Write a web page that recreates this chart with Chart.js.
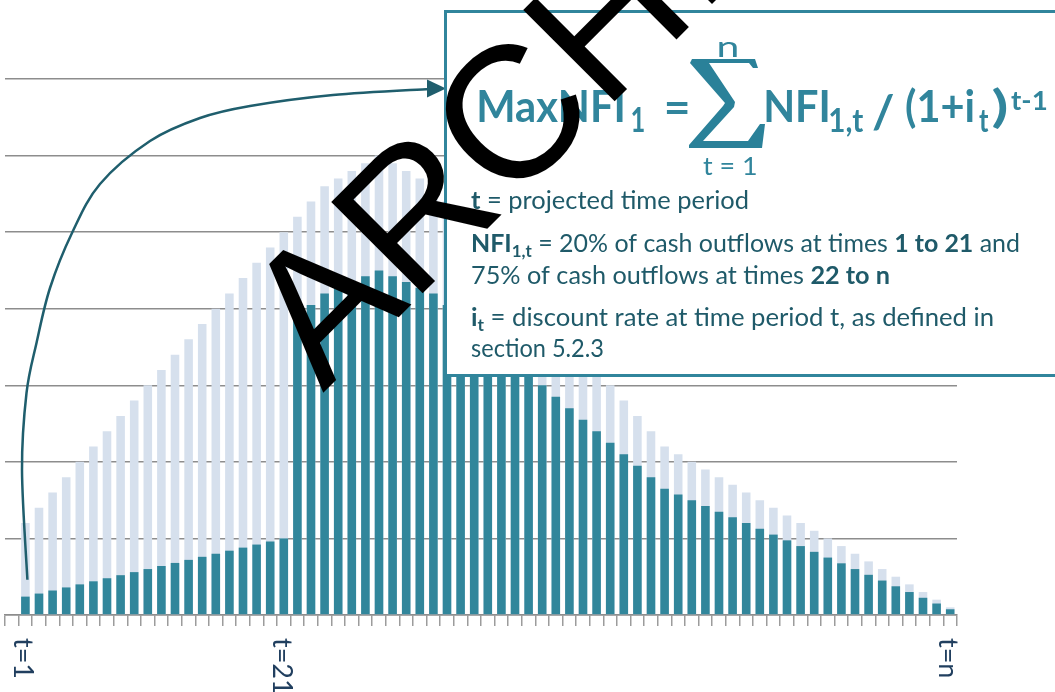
<!DOCTYPE html>
<html>
<head>
<meta charset="utf-8">
<script src="https://cdn.jsdelivr.net/npm/chart.js@4.4.1/dist/chart.umd.min.js"></script>
<style>
  html, body { margin: 0; padding: 0; background: #ffffff; }
  canvas { display: block; }
</style>
</head>
<body>
<canvas id="chart" width="1055" height="692"></canvas>
<script>
// Projection periods: slot 0 is an empty lead-in slot, slots 1..69 are t=1..t=n
const periods = [0, 1, 2, 3, 4, 5, 6, 7, 8, 9, 10, 11, 12, 13, 14, 15, 16, 17, 18, 19,
  20, 21, 22, 23, 24, 25, 26, 27, 28, 29, 30, 31, 32, 33, 34, 35, 36, 37, 38, 39,
  40, 41, 42, 43, 44, 45, 46, 47, 48, 49, 50, 51, 52, 53, 54, 55, 56, 57, 58, 59,
  60, 61, 62, 63, 64, 65, 66, 67, 68, 69];

// Projected cash outflows per period (light bars)
const cashOutflows = [null,
  12, 14, 16, 18, 20, 22, 24, 26, 28, 30, 32, 34, 36, 38, 40, 42, 44, 46, 48, 50,
  52, 54, 56, 57, 58, 59, 60, 59, 58, 57, 56,
  54, 52, 50, 48, 46, 44, 42, 40, 38, 36, 34, 32, 30, 28, 26, 24, 22,
  21, 20, 19, 18, 17, 16, 15, 14, 13, 12, 11, 10, 9, 8, 7, 6, 5, 4, 3, 2, 1];

// Net future inflows NFI(1,t) per period (dark bars)
const netFutureInflows = [null,
  2.4, 2.8, 3.2, 3.6, 4.0, 4.4, 4.8, 5.2, 5.6, 6.0, 6.4, 6.8, 7.2, 7.6, 8.0, 8.4, 8.8, 9.2, 9.6, 10.0,
  39, 40.5, 42, 42.75, 43.5, 44.25, 45, 44.25, 43.5, 42.75, 42,
  40.5, 39, 37.5, 36, 34.5, 33, 31.5, 30, 28.5, 27, 25.5, 24, 22.5, 21, 19.5, 18, 16.5,
  15.75, 15, 14.25, 13.5, 12.75, 12, 11.25, 10.5, 9.75, 9, 8.25, 7.5, 6.75, 6, 5.25, 4.5, 3.75, 3, 2.25, 1.5, 0.75];

// Labelled ticks on the time axis
const tickSlots = [1, 20, 69];
const tickTexts = ['t=1', 't=21', 't=n'];

const TEAL = '#31859c';
const TEXT_DARK = '#1f5a69';

// Draws a run of text whose ink spans exactly x0..x1
function inkRun(ctx, text, font, x0, x1, baseline, color) {
  ctx.font = font;
  const m = ctx.measureText(text);
  const inkW = m.actualBoundingBoxLeft + m.actualBoundingBoxRight;
  ctx.save();
  ctx.translate(x0, baseline);
  ctx.scale((x1 - x0) / inkW, 1);
  ctx.fillStyle = color;
  ctx.textAlign = 'left';
  ctx.textBaseline = 'alphabetic';
  ctx.fillText(text, m.actualBoundingBoxLeft, 0);
  ctx.restore();
}

// Draws a line of mixed bold / subscript runs fitted between x0 and x1
function textLine(ctx, runs, x0, x1, baseline, size, color) {
  const fontOf = r => (r.b ? 'bold ' : '') + (r.sub ? Math.round(size * 0.66) : size) + 'px Lato';
  let total = 0;
  const parts = runs.map(r => {
    ctx.font = fontOf(r);
    const w = ctx.measureText(r.t).width;
    total += w;
    return { r, w, f: fontOf(r) };
  });
  ctx.save();
  ctx.translate(x0, baseline);
  ctx.scale((x1 - x0) / total, 1);
  ctx.fillStyle = color;
  ctx.textAlign = 'left';
  ctx.textBaseline = 'alphabetic';
  let cx = 0;
  parts.forEach(p => {
    ctx.font = p.f;
    ctx.fillText(p.r.t, cx, p.r.sub ? 5 : 0);
    cx += p.w;
  });
  ctx.restore();
}

// Smooth Catmull-Rom path through a list of points
function smoothPath(ctx, pts) {
  ctx.moveTo(pts[0][0], pts[0][1]);
  for (let i = 0; i < pts.length - 1; i++) {
    const p0 = pts[Math.max(i - 1, 0)], p1 = pts[i], p2 = pts[i + 1], p3 = pts[Math.min(i + 2, pts.length - 1)];
    ctx.bezierCurveTo(
      p1[0] + (p2[0] - p0[0]) / 6, p1[1] + (p2[1] - p0[1]) / 6,
      p2[0] - (p3[0] - p1[0]) / 6, p2[1] - (p3[1] - p1[1]) / 6,
      p2[0], p2[1]);
  }
}

// Summation sign of the formula
function drawSigma(ctx) {
  const outline = [[692, 59], [755, 59], [758, 68], [753, 68], [749, 63], [709, 63], [735, 102], [734, 107],
    [703, 141], [748, 141], [760, 124], [765, 124], [762, 148], [689, 148], [689, 145], [723, 106],
    [725, 103], [690, 63]];
  ctx.save();
  ctx.fillStyle = '#2a8199';
  ctx.beginPath();
  outline.forEach((p, i) => (i ? ctx.lineTo(p[0], p[1]) : ctx.moveTo(p[0], p[1])));
  ctx.closePath();
  ctx.fill();
  ctx.restore();
}

const overlays = {
  id: 'overlays',
  afterDraw(chart) {
    const ctx = chart.ctx;
    const xs = chart.scales.x;
    const ys = chart.scales.y;

    // rotated period labels under the axis
    ctx.save();
    ctx.font = '27px Lato';
    ctx.fillStyle = '#213f5f';
    ctx.textAlign = 'left';
    ctx.textBaseline = 'alphabetic';
    tickSlots.forEach((slot, i) => {
      const x = xs.getPixelForValue(slot);
      ctx.save();
      ctx.translate(x - 11, 638);
      ctx.rotate(Math.PI / 2);
      ctx.fillText(tickTexts[i], 0, 0);
      ctx.restore();
    });
    ctx.restore();

    // curved arrow from the first period up to the formula box
    const start = [xs.getPixelForValue(1) + 2, ys.getPixelForValue(4.6)];
    const guide = [start, [22, 470], [26.5, 393], [36.5, 343], [50, 288], [72, 233], [100, 184],
      [150, 141], [200, 118], [250, 106], [333, 95], [429, 89]];
    ctx.save();
    ctx.strokeStyle = '#1f5e6d';
    ctx.fillStyle = '#1f5e6d';
    ctx.lineWidth = 2.5;
    ctx.beginPath();
    smoothPath(ctx, guide);
    ctx.stroke();
    ctx.beginPath();
    ctx.moveTo(446, 88.5);
    ctx.lineTo(427, 79.5);
    ctx.lineTo(427, 97.5);
    ctx.closePath();
    ctx.fill();
    ctx.restore();

    // formula box
    ctx.save();
    ctx.fillStyle = '#ffffff';
    ctx.fillRect(445.5, 11.5, 700, 364);
    ctx.strokeStyle = TEAL;
    ctx.lineWidth = 3;
    ctx.strokeRect(445.5, 11.5, 700, 364);
    ctx.restore();

    // MaxNFI1 = sum_{t=1}^{n} NFI1,t / (1+it)^(t-1)
    inkRun(ctx, 'MaxNFI', 'bold 44px Lato', 479, 623, 122, TEAL);
    inkRun(ctx, '1', 'bold 34px Lato', 632, 644, 132, TEAL);
    inkRun(ctx, '=', 'bold 44px Lato', 667, 688, 123, TEAL);
    drawSigma(ctx);
    inkRun(ctx, 'n', '28px Lato', 718, 737, 57, TEAL);
    inkRun(ctx, 't = 1', '25px Lato', 703, 756, 175, TEAL);
    inkRun(ctx, 'NFI', 'bold 44px Lato', 766, 828, 122, TEAL);
    inkRun(ctx, '1,t', 'bold 33px Lato', 830, 864, 132, TEAL);
    inkRun(ctx, '/', 'bold 46px Lato', 873, 894, 128, TEAL);
    inkRun(ctx, '(1+i', 'bold 44px Lato', 906, 974, 122, TEAL);
    inkRun(ctx, 't', 'bold 33px Lato', 979, 989, 132, TEAL);
    inkRun(ctx, ')', 'bold 44px Lato', 993, 1007, 122, TEAL);
    inkRun(ctx, 't-1', 'bold 27px Lato', 1011, 1046, 110, TEAL);

    // definitions
    textLine(ctx, [{ t: 't', b: true }, { t: ' = projected time period' }], 471, 749, 209, 25, TEXT_DARK);
    textLine(ctx, [{ t: 'NFI', b: true }, { t: '1,t', b: true, sub: true }, { t: ' = 20% of cash outflows at times ' },
      { t: '1 to 21', b: true }, { t: ' and' }], 471, 1020, 252, 25, TEXT_DARK);
    textLine(ctx, [{ t: '75% of cash outflows at times ' }, { t: '22 to n', b: true }], 471, 890, 284, 25, TEXT_DARK);
    textLine(ctx, [{ t: 'i', b: true }, { t: 't', b: true, sub: true }, { t: ' = discount rate at time period t, as defined in' }],
      471, 994, 326, 25, TEXT_DARK);
    textLine(ctx, [{ t: 'section 5.2.3' }], 471, 604, 357, 25, TEXT_DARK);

    // diagonal stamp across the top of the chart
    ctx.save();
    ctx.translate(323, 393);
    ctx.rotate(-45 * Math.PI / 180);
    ctx.font = '188px "Liberation Sans"';
    ctx.fillStyle = '#000000';
    ctx.textAlign = 'left';
    ctx.textBaseline = 'alphabetic';
    ctx.fillText('ARCHIVE', 0, 0);
    ctx.restore();
  }
};

new Chart(document.getElementById('chart'), {
  type: 'bar',
  data: {
    labels: periods,
    datasets: [
      { label: 'NFI', data: netFutureInflows, backgroundColor: '#31869b', grouped: false },
      { label: 'Cash outflows', data: cashOutflows, backgroundColor: '#d6e0ed', grouped: false }
    ]
  },
  options: {
    responsive: false,
    animation: false,
    layout: { padding: { left: 5, right: 98, top: 79, bottom: 66 } },
    datasets: { bar: { categoryPercentage: 1, barPercentage: 0.63 } },
    plugins: { legend: { display: false }, tooltip: { enabled: false } },
    scales: {
      x: {
        grid: { display: true, drawOnChartArea: false, offset: true, tickLength: 11, color: '#9c9c9c', lineWidth: 1.5 },
        border: { display: true, color: '#8d8d8d', width: 1.5 },
        ticks: { display: false, autoSkip: false }
      },
      y: {
        min: 0,
        max: 70,
        ticks: { display: false, stepSize: 10 },
        grid: { color: '#8d8d8d', lineWidth: 1.5, drawTicks: false },
        border: { display: false }
      }
    }
  },
  plugins: [overlays]
});
</script>
</body>
</html>
